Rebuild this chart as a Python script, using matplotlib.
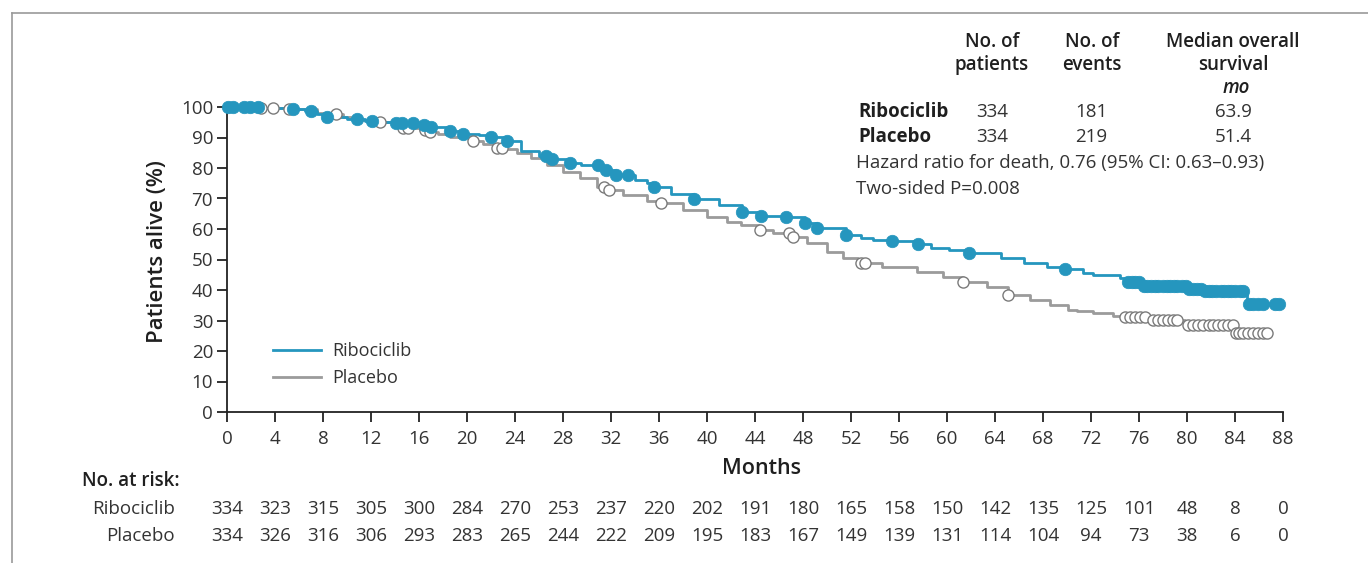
import numpy as np
import matplotlib
matplotlib.use("Agg")
import matplotlib.pyplot as plt
from matplotlib.lines import Line2D
import matplotlib.transforms as mtransforms

plt.rcParams['font.family'] = ['Open Sans', 'DejaVu Sans']

# ---------------- data ----------------
ribo_t = [0, 2.7, 4.0, 5.5, 6.5, 7.5, 8.3, 10.0, 11.5, 12.5, 14.0, 16.0, 17.0, 18.5, 19.7, 21.0,
          22.0, 23.3, 24.5, 26.0, 26.8, 28.6, 29.5, 31.0, 31.6, 32.4, 34.0, 35.0, 35.6, 37.0,
          38.9, 41.0, 42.9, 44.5, 46.6, 48.2, 49.2, 51.6, 52.8, 53.8, 55.4, 57.6, 58.7, 60.2,
          61.8, 64.5, 66.4, 68.3, 69.8, 71.3, 72.2, 74.4, 75.0, 76.3, 80.2, 81.3, 85.0, 87.7]
ribo_s = [100, 99.8, 99.6, 99.2, 98.8, 97.8, 96.6, 96.0, 95.5, 95.0, 94.6, 94.2, 93.4, 92.0, 91.3, 90.8,
          90.2, 88.7, 85.5, 84.0, 83.0, 81.8, 81.0, 80.0, 79.3, 77.7, 76.0, 75.0, 73.8, 71.5,
          69.7, 67.9, 65.7, 64.4, 63.8, 61.9, 60.3, 58.0, 57.0, 56.4, 56.1, 55.0, 53.8, 53.1,
          52.1, 50.5, 48.9, 47.5, 47.0, 45.6, 44.9, 43.9, 42.6, 41.3, 40.3, 39.7, 35.4, 35.4]

plac_t = [0, 2.5, 3.8, 5.2, 7.5, 9.0, 9.7, 10.8, 12.75, 14.6, 16.1, 16.7, 17.6, 18.6, 20.5, 21.3,
          22.5, 23.1, 24.2, 25.3, 26.7, 28.0, 29.4, 30.8, 31.5, 33.0, 35.0, 36.2, 38.0, 40.0,
          41.7, 42.8, 44.3, 45.5, 46.9, 48.3, 50.0, 51.3, 52.6, 54.6, 57.5, 59.7, 61.3, 63.3,
          65.1, 66.9, 68.6, 70.1, 70.8, 72.2, 73.8, 74.8, 76.8, 79.8, 84.0, 86.7]
plac_s = [100, 99.8, 99.6, 99.3, 98.0, 97.7, 96.8, 95.7, 95.0, 93.1, 92.5, 91.8, 91.0, 90.2, 88.9, 87.9,
          86.6, 86.2, 84.9, 83.3, 81.0, 78.7, 76.7, 73.8, 72.8, 71.1, 69.2, 68.5, 66.2, 63.9,
          62.3, 61.3, 59.7, 58.7, 57.4, 55.4, 52.5, 50.5, 48.9, 47.5, 45.9, 44.3, 42.6, 41.0,
          38.4, 36.7, 35.1, 33.4, 33.1, 32.5, 31.5, 31.1, 30.2, 28.5, 25.9, 25.9]

ribo_cens = [0.1, 0.5, 1.4, 1.9, 2.6, 5.5, 7.0, 8.3, 10.8, 12.1, 14.1, 14.6, 15.5, 16.4, 17.0,
             18.6, 19.7, 22.0, 23.3, 26.6, 27.1, 28.6, 30.9, 31.6, 32.4, 33.4, 35.6, 38.9, 42.9,
             44.5, 46.6, 48.2, 49.2, 51.6, 55.4, 57.6, 61.8, 69.8,
             75.1, 75.4, 75.7, 76.0, 76.4, 76.7, 77.0, 77.3, 77.6, 78.0, 78.3, 78.6, 78.9, 79.2,
             79.6, 79.9, 80.2, 80.5, 80.8, 81.2, 81.5, 81.8, 82.1, 82.4, 82.8, 83.1, 83.4, 83.7,
             84.0, 84.4, 84.7, 85.2, 85.5, 85.9, 86.3, 87.3, 87.7]
plac_cens = [2.8, 3.8, 5.2, 9.1, 12.75, 14.7, 15.1, 16.5, 16.9, 20.5, 22.5, 22.9, 31.4, 31.8,
             36.2, 44.4, 46.8, 47.2, 52.8, 53.2, 61.3, 65.1,
             74.8, 75.25, 75.7, 76.1, 76.5, 77.2, 77.6, 78.0, 78.4, 78.8, 79.2,
             80.1, 80.5, 80.9, 81.3, 81.8, 82.2, 82.6, 83.0, 83.4, 83.8, 84.1,
             84.3, 84.7, 85.1, 85.5, 85.9, 86.3, 86.7]

risk_times = [0, 4, 8, 12, 16, 20, 24, 28, 32, 36, 40, 44, 48, 52, 56, 60, 64, 68, 72, 76, 80, 84, 88]
risk_ribo = [334, 323, 315, 305, 300, 284, 270, 253, 237, 220, 202, 191, 180, 165, 158, 150, 142, 135, 125, 101, 48, 8, 0]
risk_plac = [334, 326, 316, 306, 293, 283, 265, 244, 222, 209, 195, 183, 167, 149, 139, 131, 114, 104, 94, 73, 38, 6, 0]

groups = ["Ribociclib", "Placebo"]
n_patients = [334, 334]
n_events = [181, 219]
median_os = ["63.9", "51.4"]

BLUE = "#2596be"
GRAY = "#9b9b9b"
TXT = "#333333"
DARK = "#1f1f1f"

def step_val(ts, ss, t):
    ts = np.asarray(ts); ss = np.asarray(ss)
    idx = np.searchsorted(ts, t, side='right') - 1
    return ss[np.clip(idx, 0, len(ss) - 1)]

W, H = 1368, 563
fig = plt.figure(figsize=(W / 100, H / 100), dpi=100)
ax = fig.add_axes([227 / W, 1 - 412 / H, (1283 - 227) / W, (412 - 107) / H])

ax.step(plac_t, plac_s, where='post', color=GRAY, lw=2.0, zorder=2, clip_on=False)
ax.step(ribo_t, ribo_s, where='post', color=BLUE, lw=2.0, zorder=3, clip_on=False)

pc = np.array(plac_cens)
ax.plot(pc, step_val(plac_t, plac_s, pc), 'o', ms=8.0, mfc='white', mec='#7a7a7a', mew=1.0,
        zorder=4, clip_on=False)
rc = np.array(ribo_cens)
ax.plot(rc, step_val(ribo_t, ribo_s, rc), 'o', ms=9.0, mfc=BLUE, mec=BLUE, mew=0.5,
        zorder=5, clip_on=False)

ax.set_xlim(0, 88)
ax.set_ylim(0, 100)
ax.set_xticks(risk_times)
ax.set_yticks(np.arange(0, 101, 10))
for s in ['top', 'right']:
    ax.spines[s].set_visible(False)
for s in ['left', 'bottom']:
    ax.spines[s].set_color('#222222')
    ax.spines[s].set_linewidth(1.3)
ax.tick_params(axis='both', direction='out', length=7, width=1.3, color='#222222',
               labelsize=13.5, labelcolor=TXT)
ax.tick_params(axis='x', pad=6)
ax.tick_params(axis='y', pad=3)

fig.text(761 / W, 1 - 468 / H, "Months", ha='center', va='center', fontsize=15.5,
         color=DARK, fontweight='semibold')
fig.text(157 / W, 1 - 252 / H, "Patients alive (%)", ha='center', va='center', fontsize=16,
         color=DARK, rotation=90, fontweight='semibold')

# legend
leg_handles = [Line2D([], [], color=BLUE, lw=2.0), Line2D([], [], color=GRAY, lw=2.0)]
ax.legend(leg_handles, groups, loc='upper left', bbox_to_anchor=(39 / 1056, (412 - 335) / 305),
          frameon=False, fontsize=13, handlelength=2.65, handletextpad=0.6,
          labelspacing=0.5, labelcolor=TXT, borderaxespad=0)

# top-right table
fs = 13.5
for cx, lines in [(992, ["No. of", "patients"]), (1092, ["No. of", "events"]),
                  (1233, ["Median overall", "survival"])]:
    for ln, yy in zip(lines, [42, 65]):
        fig.text(cx / W, 1 - yy / H, ln, ha='center', va='center', fontsize=fs,
                 color=DARK, fontweight='semibold')
fig.text(1236 / W, 1 - 88 / H, "mo", ha='center', va='center', fontsize=fs, color=DARK,
         style='italic', fontweight='semibold')
row_y = [112, 137]
for g, npat, nev, med, yy in zip(groups, n_patients, n_events, median_os, row_y):
    fig.text(858 / W, 1 - yy / H, g, ha='left', va='center', fontsize=fs, color=DARK,
             fontweight='bold')
    fig.text(992 / W, 1 - yy / H, str(npat), ha='center', va='center', fontsize=fs, color=TXT)
    fig.text(1091 / W, 1 - yy / H, str(nev), ha='center', va='center', fontsize=fs, color=TXT)
    fig.text(1233 / W, 1 - yy / H, med, ha='center', va='center', fontsize=fs, color=TXT)
fig.text(856 / W, 1 - 163 / H, "Hazard ratio for death, 0.76 (95% CI: 0.63\u20130.93)", ha='left',
         va='center', fontsize=fs, color=TXT)
fig.text(856 / W, 1 - 189 / H, "Two-sided P=0.008", ha='left', va='center', fontsize=fs, color=TXT)

# at-risk table
fig.text(82 / W, 1 - 481 / H, "No. at risk:", ha='left', va='center', fontsize=13.5,
         color=DARK, fontweight='semibold')
trans = mtransforms.blended_transform_factory(ax.transData, fig.transFigure)
for label, vals, yy in [("Ribociclib", risk_ribo, 509), ("Placebo", risk_plac, 536)]:
    fig.text(175 / W, 1 - yy / H, label, ha='right', va='center', fontsize=13.5, color=TXT)
    for t, v in zip(risk_times, vals):
        ax.text(t, 1 - yy / H, str(v), transform=trans, ha='center', va='center',
                fontsize=13.5, color=TXT)

# outer frame lines
fig.add_artist(Line2D([12 / W, 12 / W], [0, 1 - 13 / H], transform=fig.transFigure,
                      color='#9a9a9a', lw=1.2))
fig.add_artist(Line2D([12 / W, 1], [1 - 13 / H, 1 - 13 / H], transform=fig.transFigure,
                      color='#9a9a9a', lw=1.2))

fig.savefig("out.png", dpi=100)
